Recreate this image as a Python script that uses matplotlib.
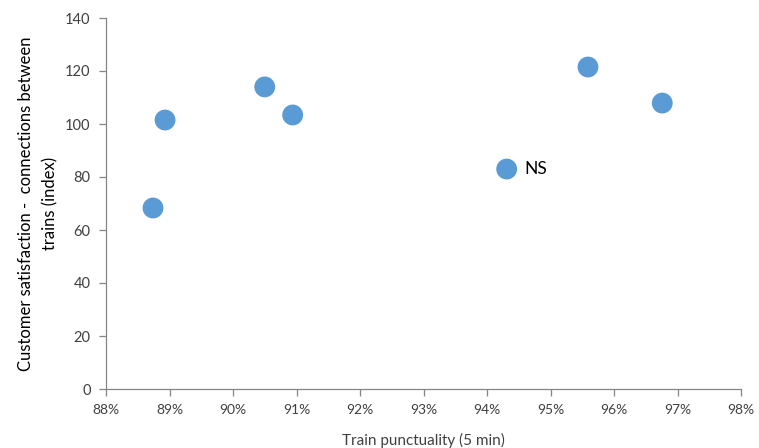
import matplotlib
matplotlib.use("Agg")
import matplotlib.pyplot as plt
from matplotlib.ticker import FuncFormatter

plt.rcParams['font.family'] = ['Lato', 'DejaVu Sans']

punctuality = [88.74, 88.93, 90.50, 90.94, 94.31, 95.59, 96.76]
satisfaction = [68.3, 101.5, 114.0, 103.4, 83.0, 121.5, 107.9]
labels = ["", "", "", "", "NS", "", ""]

fig = plt.figure(figsize=(7.59, 4.48), dpi=100)
ax = fig.add_axes([106/759, 59/448, (741-106)/759, (389-18)/448])

ax.scatter(punctuality, satisfaction, s=225, color='#5B9BD5', edgecolors='none', zorder=3)
for x, y, t in zip(punctuality, satisfaction, labels):
    if t:
        ax.annotate(t, (x, y), xytext=(13, 0), textcoords='offset points',
                    va='center', ha='left', fontsize=12.5, color='#000000')

ax.set_xlim(88, 98)
ax.set_ylim(0, 140)
ax.set_xticks(range(88, 99))
ax.set_yticks(range(0, 141, 20))
ax.xaxis.set_major_formatter(FuncFormatter(lambda v, p: f"{int(round(v))}%"))

for s in ['top', 'right']:
    ax.spines[s].set_visible(False)
for s in ['left', 'bottom']:
    ax.spines[s].set_color('#868686')
    ax.spines[s].set_linewidth(0.9)
ax.tick_params(direction='out', length=5, width=0.9, color='#868686', labelcolor='#404040')
ax.tick_params(axis='y', labelsize=10.5, pad=6)
ax.tick_params(axis='x', labelsize=10, pad=6)

ax.set_xlabel("Train punctuality (5 min)", fontsize=11, color='#404040', labelpad=12)
ax.set_ylabel("Customer satisfaction -  connections between\ntrains (index)",
              fontsize=12, color='#000000', labelpad=5, linespacing=1.65)

fig.savefig("out.png", dpi=100)
